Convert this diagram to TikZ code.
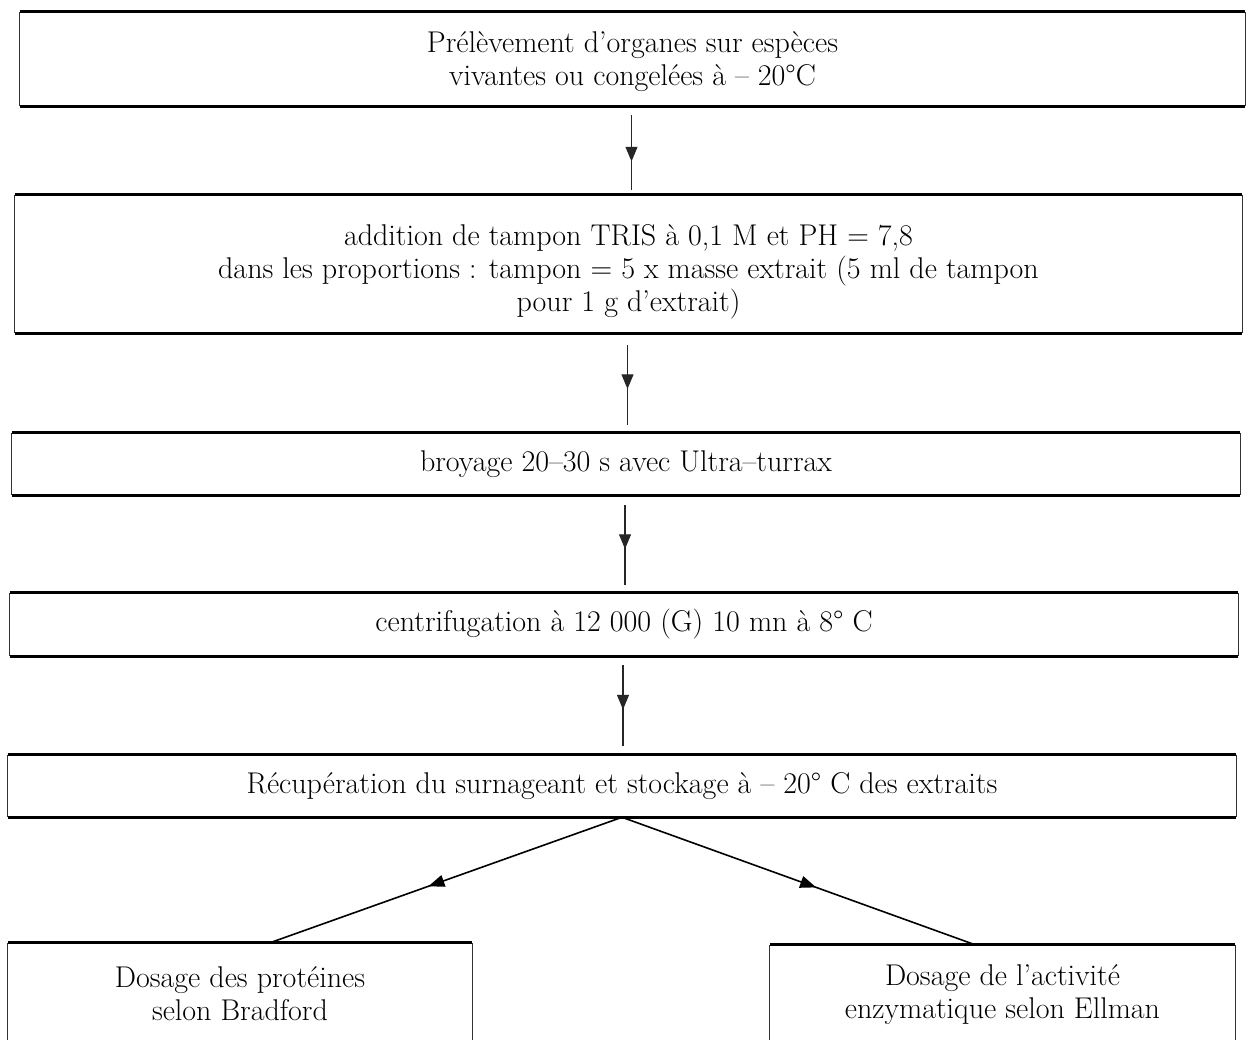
\documentclass[tikz,border=0pt]{standalone}
\usetikzlibrary{decorations.markings,arrows.meta,calc}
\begin{document}
\begin{tikzpicture}[x=0.75pt,y=-0.75pt,
  txt/.style={align=center,font=\fontsize{22.5}{24.75}\selectfont,inner sep=0pt,draw=none},
  hedge/.style={line width=2.2pt,black},
  vedge/.style={line width=0.8pt,black!80},
  midarrow/.style={line width=0.8pt,black!85,decoration={markings,mark=at position #1 with {\arrow{Triangle[width=9pt,length=11pt]}}},postaction=decorate},
  diag/.style={line width=1.2pt,black,decoration={markings,mark=at position 0.55 with {\arrow{Triangle[width=9pt,length=12pt]}}},postaction=decorate}]
\useasboundingbox (0,0) rectangle (1251,1039);
\clip (0,0) rectangle (1251,1039);
\fill[white] (0,0) rectangle (1251,1039);

\node[txt,minimum width=918.75pt,minimum height=70.5pt] (b1) at (632.5,59) {};
\node[txt] (t1) at (632.5,62)
  {Prélèvement d'organes sur espèces\\vivantes ou congelées à – 20°C};
\node[txt,minimum width=920.25pt,minimum height=103.5pt] (b2) at (628.5,264) {};
\node[txt] (t2) at (628.5,272)
  {addition de tampon TRIS à 0,1 M et PH = 7,8\\dans les proportions : tampon = 5 x masse extrait (5 ml de tampon\\pour 1 g d'extrait)};
\node[txt,minimum width=921pt,minimum height=46.5pt] (b3) at (626,464)
  {broyage 20–30 s avec Ultra–turrax};
\node[txt,minimum width=921pt,minimum height=47.25pt] (b4) at (624,624.5)
  {centrifugation à 12 000 (G) 10 mn à 8° C};
\node[txt,minimum width=921pt,minimum height=46.5pt] (b5) at (622,786)
  {Récupération du surnageant et stockage à – 20° C des extraits};
\node[txt,minimum width=348pt,minimum height=75.75pt] (b6) at (240,993.5)
  {Dosage des protéines\\selon Bradford};
\node[txt,minimum width=348.75pt,minimum height=74.25pt] (b7) at (1002.5,994.5)
  {Dosage de l'activité\\enzymatique selon Ellman};

\foreach \n in {b1,b2,b3,b4,b5,b6,b7}{
  \draw[vedge] (\n.north west) -- (\n.south west);
  \draw[vedge] (\n.north east) -- (\n.south east);
  \draw[hedge] (\n.north west) -- (\n.north east);
  \draw[hedge] (\n.south west) -- (\n.south east);
}

\draw[midarrow=0.62] ($(b1.south)+(-1,9)$) -- ($(b1.south |- b2.north)+(-1,-5)$);
\draw[midarrow=0.55] ($(b2.south)+(-1,12)$) -- ($(b2.south |- b3.north)+(-1,-8)$);
\draw[midarrow=0.55] ($(b3.south)+(-1,10)$) -- ($(b3.south |- b4.north)+(-1,-8)$);
\draw[midarrow=0.55] ($(b4.south)+(-1,9)$) -- ($(b4.south |- b5.north)+(-1,-9)$);

\draw[diag] (b5.south) -- ($(b6.north)+(30,0)$);
\draw[diag] (b5.south) -- ($(b7.north)+(-27.5,0)$);
\end{tikzpicture}
\end{document}
